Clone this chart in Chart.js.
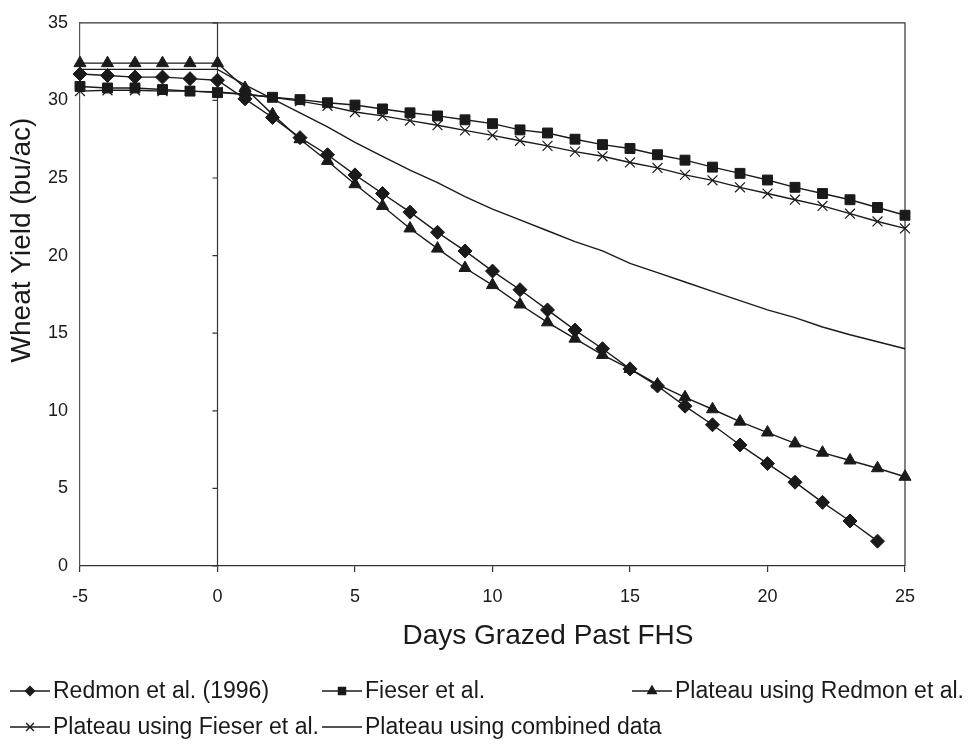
<!DOCTYPE html>
<html lang="en">
<head>
<meta charset="UTF-8">
<title>Wheat Yield vs Days Grazed Past FHS</title>
<script src="https://cdn.jsdelivr.net/npm/chart.js"></script>
<style>
  html, body { margin: 0; padding: 0; background: #fff; }
  #wrap { width: 971px; height: 744px; position: relative; }
</style>
</head>
<body>
<div id="wrap"><canvas id="yieldChart"></canvas></div>
<script>
// days grazed past first hollow stem
const days = [-5, -4, -3, -2, -1, 0, 1, 2, 3, 4, 5, 6, 7, 8, 9, 10,
              11, 12, 13, 14, 15, 16, 17, 18, 19, 20, 21, 22, 23, 24, 25];

// wheat yield, bu/ac
const redmon = [31.7, 31.6, 31.5, 31.5, 31.4, 31.3, 30.1, 28.9, 27.6, 26.5,
                25.2, 24.0, 22.8, 21.5, 20.3, 19.0, 17.8, 16.5, 15.2, 14.0,
                12.7, 11.6, 10.3, 9.1, 7.8, 6.6, 5.4, 4.1, 2.9, 1.6, null];
const fieser = [30.9, 30.8, 30.8, 30.7, 30.6, 30.5, 30.4, 30.2, 30.05, 29.85,
                29.7, 29.45, 29.2, 29.0, 28.75, 28.5, 28.1, 27.9, 27.5, 27.15,
                26.9, 26.5, 26.15, 25.7, 25.3, 24.87, 24.4, 24.0, 23.6, 23.1, 22.6];
const plateauRedmon = [32.4, 32.4, 32.4, 32.4, 32.4, 32.4, 30.8, 29.1, 27.5, 26.1,
                       24.6, 23.2, 21.75, 20.45, 19.2, 18.1, 16.85, 15.7, 14.65, 13.6,
                       12.7, 11.7, 10.87, 10.1, 9.3, 8.6, 7.9, 7.3, 6.8, 6.3, 5.75];
const plateauFieser = [30.6, 30.65, 30.65, 30.6, 30.6, 30.55, 30.4, 30.2, 29.95, 29.65,
                       29.25, 29.0, 28.7, 28.4, 28.07, 27.75, 27.4, 27.07, 26.7, 26.4,
                       26.0, 25.65, 25.2, 24.85, 24.4, 24.0, 23.6, 23.2, 22.7, 22.2, 21.75];
const plateauCombined = [32.0, 32.0, 32.0, 32.0, 32.0, 32.0, 31.0, 30.1, 29.2, 28.3,
                         27.3, 26.4, 25.5, 24.7, 23.8, 23.0, 22.3, 21.6, 20.9, 20.3,
                         19.5, 18.9, 18.3, 17.7, 17.1, 16.5, 16.0, 15.4, 14.9, 14.45, 14.0];

const xTitle = 'Days Grazed Past FHS';
const yTitle = 'Wheat Yield (bu/ac)';

const ink = '#1a1a1a';
const font = '"Liberation Sans", Arial, Helvetica, sans-serif';

function toPoints(vals) {
    return days.map((d, i) => ({ x: d, y: vals[i] })).filter(p => p.y !== null);
}

function series(label, vals, style, radius, legendRadius) {
    return {
        label: label,
        data: toPoints(vals),
        showLine: true,
        clip: false,
        borderColor: ink,
        backgroundColor: ink,
        borderWidth: 1.4,
        pointStyle: style,
        pointRadius: radius,
        pointBorderWidth: style === 'crossRot' ? 1.2 : 1,
        pointBorderColor: ink,
        pointBackgroundColor: ink,
        legendRadius: legendRadius,
        tension: 0,
        fill: false
    };
}

// frame, zero line, axis titles and the two-row legend
const decorations = {
    id: 'decorations',
    beforeDatasetsDraw(chart) {
        const { ctx, chartArea: a, scales } = chart;
        ctx.save();
        ctx.strokeStyle = '#333';
        ctx.lineWidth = 1.2;
        ctx.beginPath();
        ctx.moveTo(a.left, a.top);
        ctx.lineTo(a.right, a.top);
        ctx.lineTo(a.right, a.bottom);
        ctx.stroke();

        // vertical axis crossing at day 0
        const x0 = scales.x.getPixelForValue(0);
        ctx.beginPath();
        ctx.moveTo(x0, a.top);
        ctx.lineTo(x0, a.bottom);
        scales.y.ticks.forEach(t => {
            const y = scales.y.getPixelForValue(t.value);
            ctx.moveTo(x0 - 5, y);
            ctx.lineTo(x0, y);
        });
        ctx.stroke();
        ctx.restore();
    },
    afterDraw(chart) {
        const { ctx } = chart;
        ctx.save();
        ctx.fillStyle = ink;
        ctx.font = '28px ' + font;
        ctx.textAlign = 'center';
        ctx.textBaseline = 'middle';
        ctx.fillText(xTitle, 548, 636);

        ctx.translate(22, 240);
        ctx.rotate(-Math.PI / 2);
        ctx.fillText(yTitle, 0, 0);
        ctx.setTransform(1, 0, 0, 1, 0, 0);

        // legend
        const slots = [[10, 691], [322, 691], [632, 691], [10, 727], [322, 727]];
        ctx.font = '23px ' + font;
        ctx.textAlign = 'left';
        chart.data.datasets.forEach((ds, i) => {
            const [lx, ly] = slots[i];
            ctx.strokeStyle = ink;
            ctx.lineWidth = 1.4;
            ctx.beginPath();
            ctx.moveTo(lx, ly);
            ctx.lineTo(lx + 40, ly);
            ctx.stroke();
            if (ds.pointRadius > 0) {
                ctx.fillStyle = ink;
                Chart.helpers.drawPoint(ctx, {
                    pointStyle: ds.pointStyle,
                    radius: ds.legendRadius,
                    rotation: 0,
                    borderWidth: 1
                }, lx + 20, ly);
            }
            ctx.fillStyle = ink;
            ctx.fillText(ds.label, lx + 43, ly + 1);
        });
        ctx.restore();
    }
};

const ctx = document.getElementById('yieldChart').getContext('2d');
new Chart(ctx, {
    type: 'scatter',
    data: {
        datasets: [
            series('Redmon et al. (1996)', redmon, 'rectRot', 7, 4.5),
            series('Fieser et al.', fieser, 'rect', 7, 5),
            series('Plateau using Redmon et al.', plateauRedmon, 'triangle', 7, 5),
            series('Plateau using Fieser et al.', plateauFieser, 'crossRot', 7, 5.5),
            series('Plateau using combined data', plateauCombined, 'circle', 0, 0)
        ]
    },
    options: {
        responsive: true,
        maintainAspectRatio: false,
        animation: false,
        devicePixelRatio: 1,
        layout: { padding: { left: 0, right: 66, top: 11, bottom: 0 } },
        plugins: {
            legend: { display: false },
            tooltip: { enabled: false }
        },
        scales: {
            x: {
                type: 'linear',
                min: -5,
                max: 25,
                afterFit: s => { s.height = 178; },
                ticks: { stepSize: 5, color: ink, padding: 14, font: { family: font, size: 18 } },
                grid: { drawOnChartArea: false, drawTicks: true, tickLength: 6, color: '#333', lineWidth: 1.2 },
                border: { display: true, color: '#333', width: 1.2 }
            },
            y: {
                min: 0,
                max: 35,
                afterFit: s => { s.width = 80; },
                ticks: { stepSize: 5, color: ink, padding: 12, font: { family: font, size: 18 } },
                grid: { display: false, drawTicks: false },
                border: { display: true, color: '#555', width: 1.2 }
            }
        }
    },
    plugins: [decorations]
});
</script>
</body>
</html>
